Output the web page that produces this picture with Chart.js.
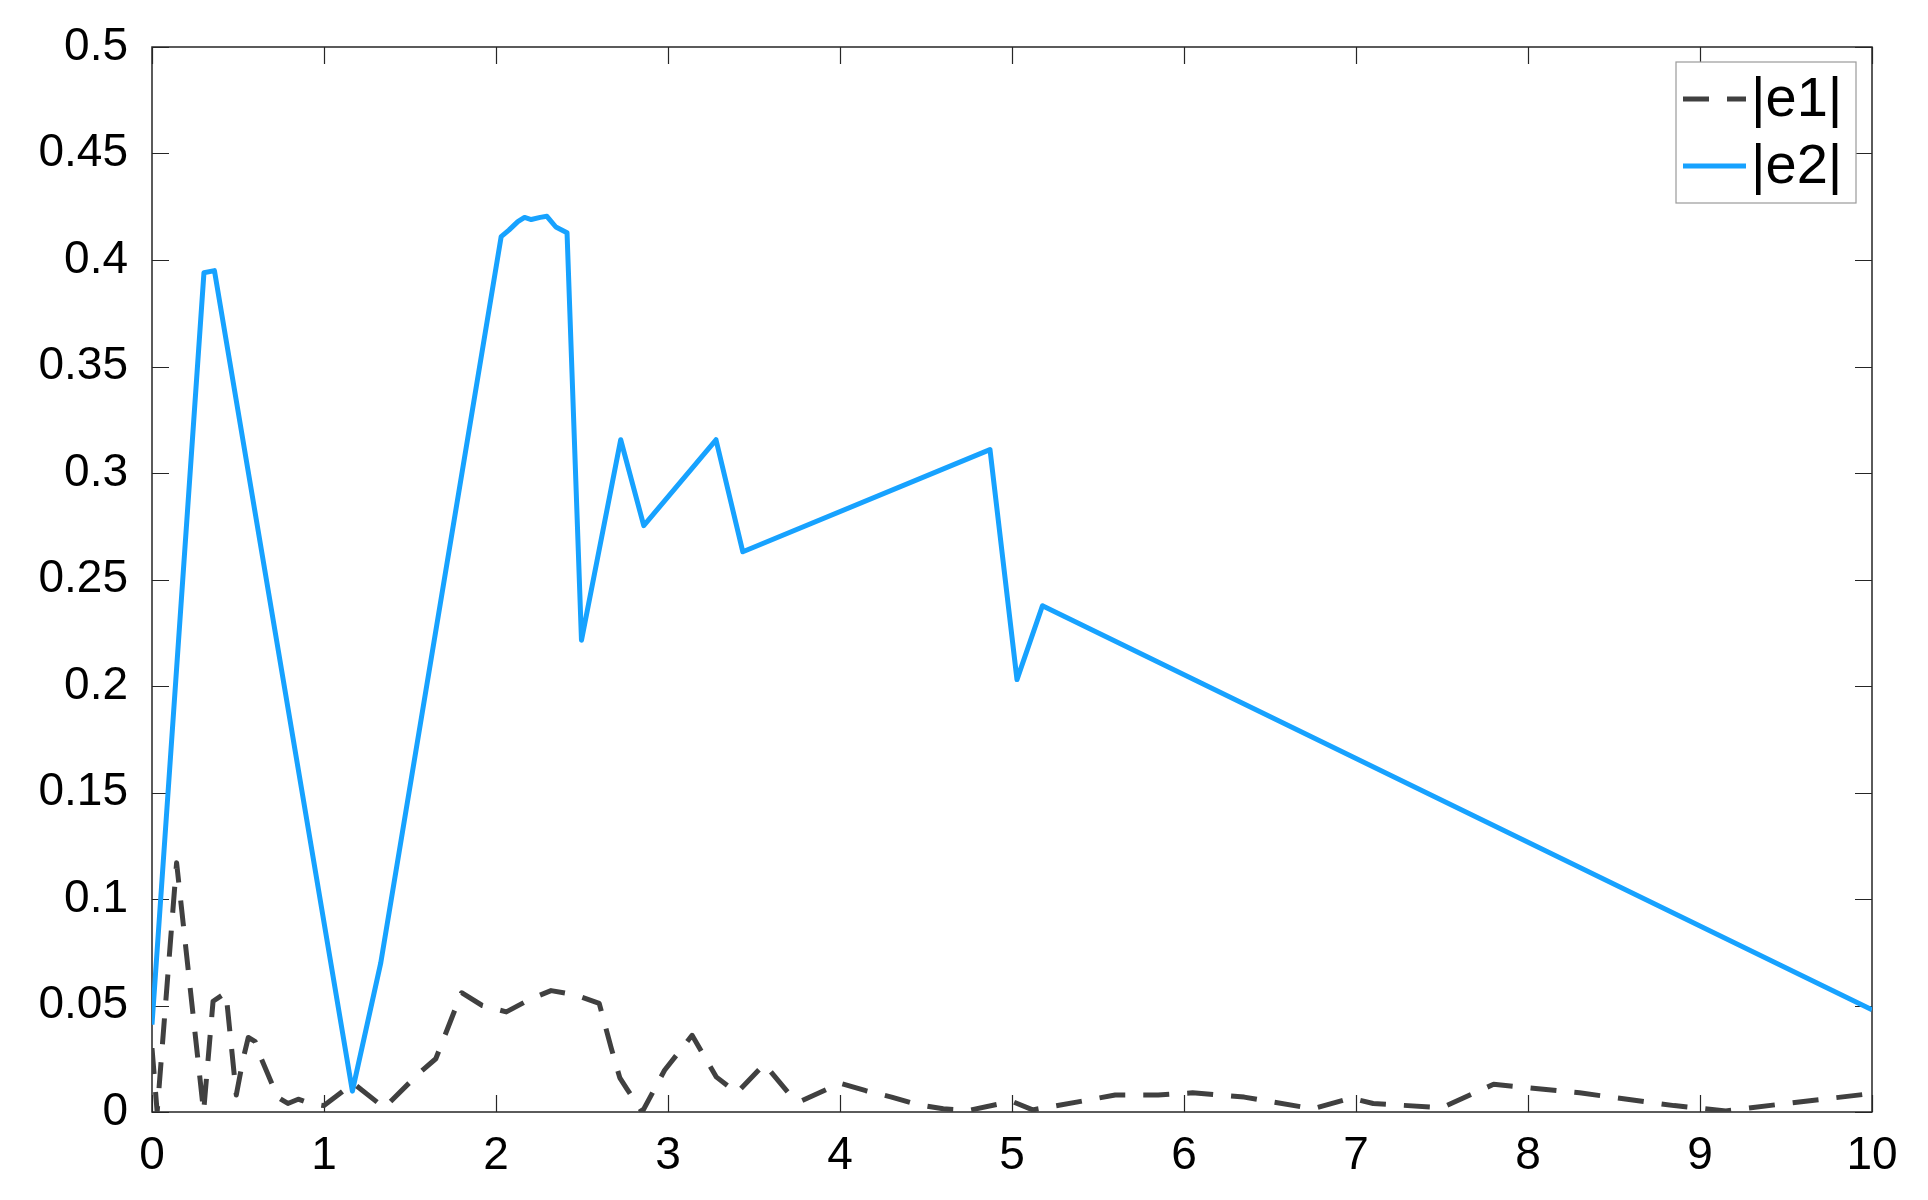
<!DOCTYPE html>
<html>
<head>
<meta charset="utf-8">
<title>|e1| and |e2|</title>
<script src="https://cdn.jsdelivr.net/npm/chart.js@4.4.1/dist/chart.umd.min.js"></script>
<style>
  html, body { margin: 0; padding: 0; background: #fff; }
  #wrap { width: 1928px; height: 1200px; }
</style>
</head>
<body>
<div id="wrap"><canvas id="errChart" width="1928" height="1200"></canvas></div>
<script>
// |e1| : dashed dark grey curve
const e1X = [0, 0.03, 0.143, 0.30, 0.355, 0.43, 0.49, 0.53, 0.56, 0.60, 0.625, 0.73, 0.79, 0.85, 0.92, 1.0,
  1.17, 1.35, 1.55, 1.65, 1.8, 1.92, 2.06, 2.2, 2.32, 2.46, 2.6, 2.67, 2.72, 2.76, 2.85, 2.98, 3.14, 3.28,
  3.40, 3.56, 3.70, 3.77, 4.0, 4.15, 4.3, 4.45, 4.6, 4.75, 5.0, 5.12, 5.4, 5.6, 5.85, 6.05, 6.35, 6.75,
  6.97, 7.1, 7.5, 7.8, 8.3, 8.85, 9.15, 9.5, 10];
const e1Y = [0.030, 0.0, 0.117, 0.0, 0.052, 0.056, 0.008, 0.025, 0.035, 0.033, 0.027, 0.007, 0.004, 0.006, 0.004, 0.003,
  0.0135, 0.002, 0.018, 0.025, 0.056, 0.050, 0.047, 0.053, 0.057, 0.055, 0.051, 0.030, 0.016, 0.011, 0.0, 0.0196, 0.036, 0.0165,
  0.009, 0.0225, 0.009, 0.005, 0.0135, 0.010, 0.007, 0.0035, 0.0015, 0.0008, 0.005, 0.001, 0.005, 0.008, 0.008, 0.009, 0.007, 0.0015,
  0.0065, 0.004, 0.002, 0.013, 0.009, 0.003, 0.0005, 0.004, 0.0087];

// |e2| : solid blue curve
const e2X = [0, 0.302, 0.363, 1.165, 1.33, 2.03, 2.075, 2.127, 2.166, 2.205, 2.257, 2.296, 2.348, 2.413,
  2.497, 2.725, 2.859, 3.279, 3.435, 4.872, 5.029, 5.177, 10];
const e2Y = [0.041, 0.394, 0.395, 0.0098, 0.070, 0.411, 0.414, 0.418, 0.420, 0.419, 0.420, 0.4205, 0.4155, 0.4128,
  0.2215, 0.3156, 0.2753, 0.3156, 0.263, 0.311, 0.203, 0.2377, 0.048];

const seriesNames = ['|e1|', '|e2|'];
const xTicks = [0, 1, 2, 3, 4, 5, 6, 7, 8, 9, 10];
const yTicks = [0, 0.05, 0.1, 0.15, 0.2, 0.25, 0.3, 0.35, 0.4, 0.45, 0.5];

const toPoints = (xs, ys) => xs.map((x, i) => ({ x: x, y: ys[i] }));

const axisColor = '#262626';
const tickLen = 17;

// matlab style box with ticks pointing inward on all four sides
const boxPlugin = {
  id: 'matlabBox',
  beforeDatasetsDraw(chart) {
    const { ctx, chartArea: a, scales: { x, y } } = chart;
    ctx.save();
    ctx.strokeStyle = axisColor;
    ctx.lineWidth = 1.5;
    ctx.strokeRect(a.left, a.top, a.right - a.left, a.bottom - a.top);
    ctx.beginPath();
    x.ticks.forEach(t => {
      const px = Math.round(x.getPixelForValue(t.value)) + 0.5;
      ctx.moveTo(px, a.bottom); ctx.lineTo(px, a.bottom - tickLen);
      ctx.moveTo(px, a.top); ctx.lineTo(px, a.top + tickLen);
    });
    y.ticks.forEach(t => {
      const py = Math.round(y.getPixelForValue(t.value)) + 0.5;
      ctx.moveTo(a.left, py); ctx.lineTo(a.left + tickLen, py);
      ctx.moveTo(a.right, py); ctx.lineTo(a.right - tickLen, py);
    });
    ctx.lineWidth = 1.2;
    ctx.stroke();
    ctx.restore();
  }
};

// legend box in the top right corner of the plot area
const legendPlugin = {
  id: 'innerLegend',
  afterDatasetsDraw(chart) {
    const { ctx, chartArea: a } = chart;
    const w = 180, h = 141;
    const left = a.right - 16 - w, top = a.top + 15;
    ctx.save();
    ctx.fillStyle = '#ffffff';
    ctx.fillRect(left, top, w, h);
    ctx.strokeStyle = '#9a9a9a';
    ctx.lineWidth = 1.2;
    ctx.strokeRect(left, top, w, h);
    const rows = [top + 37, top + 104];
    chart.data.datasets.forEach((ds, i) => {
      const yy = rows[i];
      ctx.strokeStyle = ds.borderColor;
      ctx.lineWidth = 5;
      ctx.setLineDash(ds.borderDash || []);
      ctx.beginPath();
      ctx.moveTo(left + 7, yy);
      ctx.lineTo(left + 70, yy);
      ctx.stroke();
      ctx.setLineDash([]);
      ctx.fillStyle = '#000';
      ctx.font = "56px 'Liberation Sans', Arial, sans-serif";
      ctx.textBaseline = 'middle';
      ctx.textAlign = 'left';
      ctx.fillText(ds.label, left + 75, yy + 2);
    });
    ctx.restore();
  }
};

Chart.defaults.font.family = "'Liberation Sans', Arial, sans-serif";
Chart.defaults.color = '#000';

const ctx = document.getElementById('errChart').getContext('2d');
const chart = new Chart(ctx, {
  type: 'scatter',
  data: {
    datasets: [
      {
        label: seriesNames[0],
        data: toPoints(e1X, e1Y),
        showLine: true,
        borderColor: '#404040',
        borderWidth: 5,
        borderDash: [26, 18],
        borderJoinStyle: 'round',
        pointRadius: 0,
        tension: 0
      },
      {
        label: seriesNames[1],
        data: toPoints(e2X, e2Y),
        showLine: true,
        borderColor: '#17a2ff',
        borderWidth: 5,
        borderJoinStyle: 'round',
        pointRadius: 0,
        tension: 0
      }
    ]
  },
  options: {
    responsive: false,
    animation: false,
    events: [],
    layout: { padding: { top: 47, right: 56, bottom: 0, left: 0 } },
    plugins: {
      legend: { display: false },
      tooltip: { enabled: false }
    },
    scales: {
      x: {
        type: 'linear',
        min: 0,
        max: 10,
        grid: { display: false },
        border: { display: false },
        afterBuildTicks: s => { s.ticks = xTicks.map(v => ({ value: v })); },
        afterFit: s => { s.height = 88; },
        ticks: {
          font: { size: 46 },
          padding: 9,
          maxRotation: 0,
          autoSkip: false,
          callback: v => String(v)
        }
      },
      y: {
        type: 'linear',
        min: 0,
        max: 0.5,
        grid: { display: false },
        border: { display: false },
        afterBuildTicks: s => { s.ticks = yTicks.map(v => ({ value: v })); },
        afterFit: s => { s.width = 152; },
        ticks: {
          font: { size: 46 },
          padding: 16,
          autoSkip: false,
          callback: v => String(Math.round(v * 100) / 100)
        }
      }
    }
  },
  plugins: [boxPlugin, legendPlugin]
});
</script>
</body>
</html>
